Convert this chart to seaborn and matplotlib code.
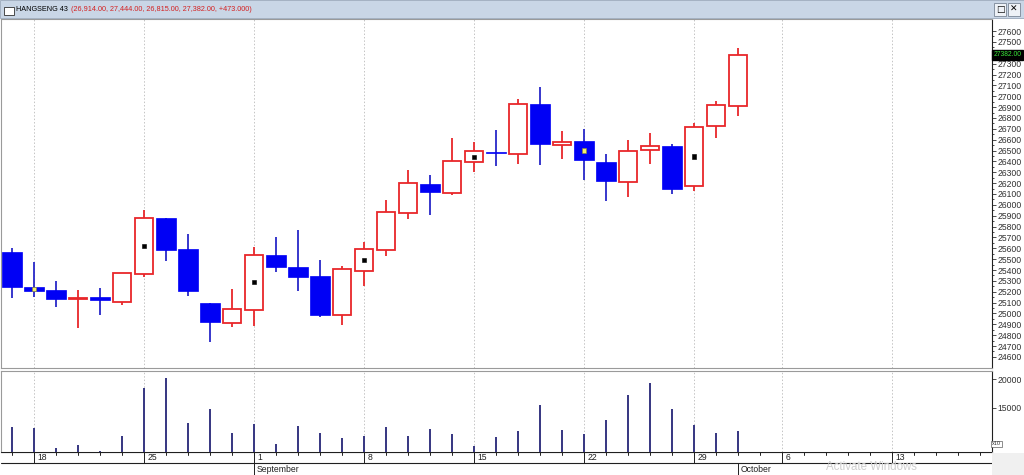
import matplotlib
matplotlib.use("Agg")
import matplotlib.pyplot as plt
from matplotlib.patches import Rectangle
import pandas as pd
import seaborn as sns

# --- data --------------------------------------------------------------------
sessions = ["2014-08-15",
            "2014-08-18", "2014-08-19", "2014-08-20", "2014-08-21", "2014-08-22",
            "2014-08-25", "2014-08-26", "2014-08-27", "2014-08-28", "2014-08-29",
            "2014-09-01", "2014-09-02", "2014-09-03", "2014-09-04", "2014-09-05",
            "2014-09-08", "2014-09-09", "2014-09-10", "2014-09-11", "2014-09-12",
            "2014-09-15", "2014-09-16", "2014-09-17", "2014-09-18", "2014-09-19",
            "2014-09-22", "2014-09-23", "2014-09-24", "2014-09-25", "2014-09-26",
            "2014-09-29", "2014-09-30", "2014-10-01"]
future_sessions = ["2014-10-03",
                   "2014-10-06", "2014-10-07", "2014-10-08", "2014-10-09", "2014-10-10",
                   "2014-10-13", "2014-10-14", "2014-10-15", "2014-10-16", "2014-10-17"]

opens = [25563, 25243, 25216, 25136, 25151, 25110, 25363, 25877, 25594, 25098,
         24914, 25034, 25539, 25424, 25345, 24988, 25394, 25588, 25923, 26194,
         26111, 26394, 26480, 26471, 26929, 26554, 26585, 26397, 26213, 26502,
         26541, 26176, 26730, 26914]
highs = [25600, 25470, 25299, 25218, 25230, 25369, 25957, 25877, 25733, 25098,
         25225, 25609, 25701, 25772, 25493, 25440, 25661, 26046, 26323, 26277,
         26619, 26578, 26686, 26975, 27086, 26680, 26702, 26471, 26594, 26661,
         26557, 26757, 26960, 27444]
lows = [25147, 25154, 25061, 24865, 24985, 25077, 25332, 25486, 25163, 24741,
        24880, 24886, 25385, 25203, 24972, 24893, 25249, 25526, 25871, 25902,
        26093, 26301, 26354, 26372, 26363, 26421, 26225, 26040, 26070, 26372,
        26102, 26126, 26619, 26815]
closes = [25246, 25209, 25133, 25145, 25120, 25369, 25877, 25588, 25203, 24920,
          25037, 25539, 25424, 25338, 24990, 25409, 25594, 25932, 26203, 26114,
          26400, 26492, 26475, 26926, 26560, 26575, 26416, 26215, 26499, 26545,
          26144, 26714, 26920, 27382]
volumes = [11516, 11390, 7852, 8448, 7350, 9946, 18375, 20180, 12293, 14711,
           10560, 12058, 8574, 11697, 10614, 9657, 10018, 11570, 10060, 11265,
           10361, 8253, 9880, 10964, 15482, 11145, 10361, 12771, 17289, 19277,
           14699, 11867, 10542, 10843]

title_name = "HANGSENG 43"
title_values = "(26,914.00, 27,444.00, 26,815.00, 27,382.00, +473.000)"
last_price = "27382.00"
price_ticks = list(range(24600, 27700, 100))
volume_ticks = [15000, 20000]

# --- frame ---------------------------------------------------------------
df = pd.DataFrame({"date": pd.to_datetime(sessions), "open": opens, "high": highs,
                   "low": lows, "close": closes, "volume": volumes})
df["i"] = range(len(df))
df["up"] = df["close"] >= df["open"]
all_dates = pd.to_datetime(sessions + future_sessions)

sns.set_theme(style="white")
plt.rcParams["font.family"] = ["Liberation Sans", "DejaVu Sans"]

W, H = 1024, 475
fig = plt.figure(figsize=(W / 100, H / 100), dpi=100)
fig.patch.set_facecolor("white")

def box(l, t, r, b):
    return [l / W, 1 - b / H, (r - l) / W, (b - t) / H]

RED = "#e8262a"
BLUE = "#0000f5"
WICK_BLUE = "#2828c8"

ax_p = fig.add_axes(box(1, 19, 992, 368))
ax_v = fig.add_axes(box(1, 371, 992, 452), sharex=ax_p)
ax_d = fig.add_axes(box(1, 452, 992, 475), sharex=ax_p)

# candles: wicks then bodies
for up, col in [(True, RED), (False, WICK_BLUE)]:
    d = df[df["up"] == up]
    ax_p.vlines(d["i"], d["low"], d["high"], color=col, lw=1.3, zorder=2)
up_d = df[df["up"]]
dn_d = df[~df["up"]]
ax_p.bar(up_d["i"], (up_d["close"] - up_d["open"]).clip(lower=8), bottom=up_d["open"],
         width=0.84, facecolor="white", edgecolor=RED, linewidth=1.3, zorder=3)
ax_p.bar(dn_d["i"], (dn_d["open"] - dn_d["close"]).clip(lower=8), bottom=dn_d["close"],
         width=0.92, facecolor=BLUE, edgecolor=BLUE, linewidth=0.5, zorder=3)

# weekly markers at body middle on Mondays
mon = df[df["date"].dt.weekday == 0]
mid = (mon["open"] + mon["close"]) / 2
ax_p.scatter(mon["i"], mid, marker="s", s=9,
             c=["#f5f06a" if not u else "black" for u in mon["up"]],
             edgecolors=["#8a8a30" if not u else "black" for u in mon["up"]],
             linewidths=0.4, zorder=4)

ax_p.set_xlim(-0.5, 44.55)
ax_p.set_ylim(24498, 27711)

# volume
sns.barplot(data=df, x="i", y="volume", native_scale=True, width=0.08,
            color="#3a3a84", saturation=1, errorbar=None, ax=ax_v, zorder=2,
            linewidth=0)
ax_v.set_ylim(7184, 21450)
ax_v.set_xlim(-0.5, 44.55)

# grid on Mondays
mondays = [k for k, d in enumerate(all_dates) if d.weekday() == 0]
for ax in (ax_p, ax_v):
    for k in mondays:
        ax.axvline(k, color="#c4c4c4", lw=0.7, ls=(0, (1.5, 2)), zorder=0)

for ax, ticks in ((ax_p, price_ticks), (ax_v, volume_ticks)):
    ax.set_facecolor("white")
    ax.set_xlabel("")
    ax.set_ylabel("")
    ax.yaxis.tick_right()
    ax.set_yticks(ticks)
    ax.set_yticklabels(["" if t == 27400 else str(t) for t in ticks], fontsize=6.2,
                       color="#303030")
    ax.tick_params(axis="y", which="both", direction="out", length=3, width=0.6,
                   color="#303030", pad=1, right=True, left=False)
    ax.tick_params(axis="x", bottom=False, labelbottom=False)
    for s in ax.spines.values():
        s.set_color("#9a9a9a")
        s.set_linewidth(0.8)
    ax.spines["right"].set_color("#202020")
ax_p.set_yticks([t + 50 for t in price_ticks[:-1]], minor=True)
ax_p.tick_params(axis="y", which="minor", length=1.5)

# last price tag
ax_p.text(1.0015, 27382, last_price, transform=ax_p.get_yaxis_transform(),
          fontsize=4.9, color="#39e639", va="center", ha="left", zorder=6, clip_on=False,
          bbox=dict(boxstyle="square,pad=0.2", facecolor="black", edgecolor="black"))

# "x10" tag on volume axis
ax_v.text(1.0, 0.1, "x10", transform=ax_v.transAxes, fontsize=4, color="#303030",
          va="center", ha="left", clip_on=False,
          bbox=dict(boxstyle="square,pad=0.15", facecolor="white", edgecolor="#606060", lw=0.5))

# date axis rows
ax_d.set_ylim(0, 23)
ax_d.axis("off")
ax_d.axhline(23, color="#202020", lw=0.8)
ax_d.axhline(12.5, color="#202020", lw=0.8)
for k, d in enumerate(all_dates):
    ax_d.plot([k, k], [23, 20], color="#202020", lw=0.7)
    if d.weekday() == 0:
        ax_d.plot([k, k], [23, 12.5], color="#202020", lw=0.7)
        ax_d.text(k + 0.15, 17.8, str(d.day), fontsize=6.2, color="#202020",
                  va="center", ha="left")
    if k > 0 and d.month != all_dates[k - 1].month:
        ax_d.plot([k, k], [12.5, 0], color="#202020", lw=0.7)
        ax_d.text(k + 0.1, 6, d.strftime("%B"), fontsize=6.2, color="#202020",
                  va="center", ha="left")

# title bar
fig.patches.append(Rectangle((0, 1 - 18 / H), 1, 18 / H, transform=fig.transFigure,
                             facecolor="#c9d6e6", edgecolor="#9aa8ba", lw=0.6, zorder=0))
fig.patches.append(Rectangle((4 / W, 1 - 15 / H), 10 / W, 8 / H, transform=fig.transFigure,
                             facecolor="white", edgecolor="#303030", lw=0.6, zorder=1))
t1 = fig.text(16 / W, 1 - 9.5 / H, title_name, fontsize=5.2, color="black", va="center")
fig.canvas.draw()
bb = t1.get_window_extent()
fig.text((bb.x1 + 3) / W, 1 - 9.5 / H, title_values, fontsize=5.2, color="#d42020",
         va="center")
for bx, glyph in ((994, "\u25a1"), (1008, "\u2715")):
    fig.patches.append(Rectangle((bx / W, 1 - 16 / H), 12 / W, 13 / H,
                                 transform=fig.transFigure, facecolor="#eef2f7",
                                 edgecolor="#7a8696", lw=0.6, zorder=1))
    fig.text((bx + 6) / W, 1 - 9.5 / H, glyph, fontsize=6.5, ha="center", va="center",
             color="black", family=["DejaVu Sans"])

# bottom right corner and watermark
fig.patches.append(Rectangle((992 / W, 0), 32 / W, 22 / H, transform=fig.transFigure,
                             facecolor="#f0f0f0", edgecolor="none", zorder=0))
fig.text(826 / W, 1 - 467 / H, "Activate Windows", fontsize=8.3, color="#cfcfcf",
         va="center", ha="left")

fig.savefig("out.png", dpi=100)
